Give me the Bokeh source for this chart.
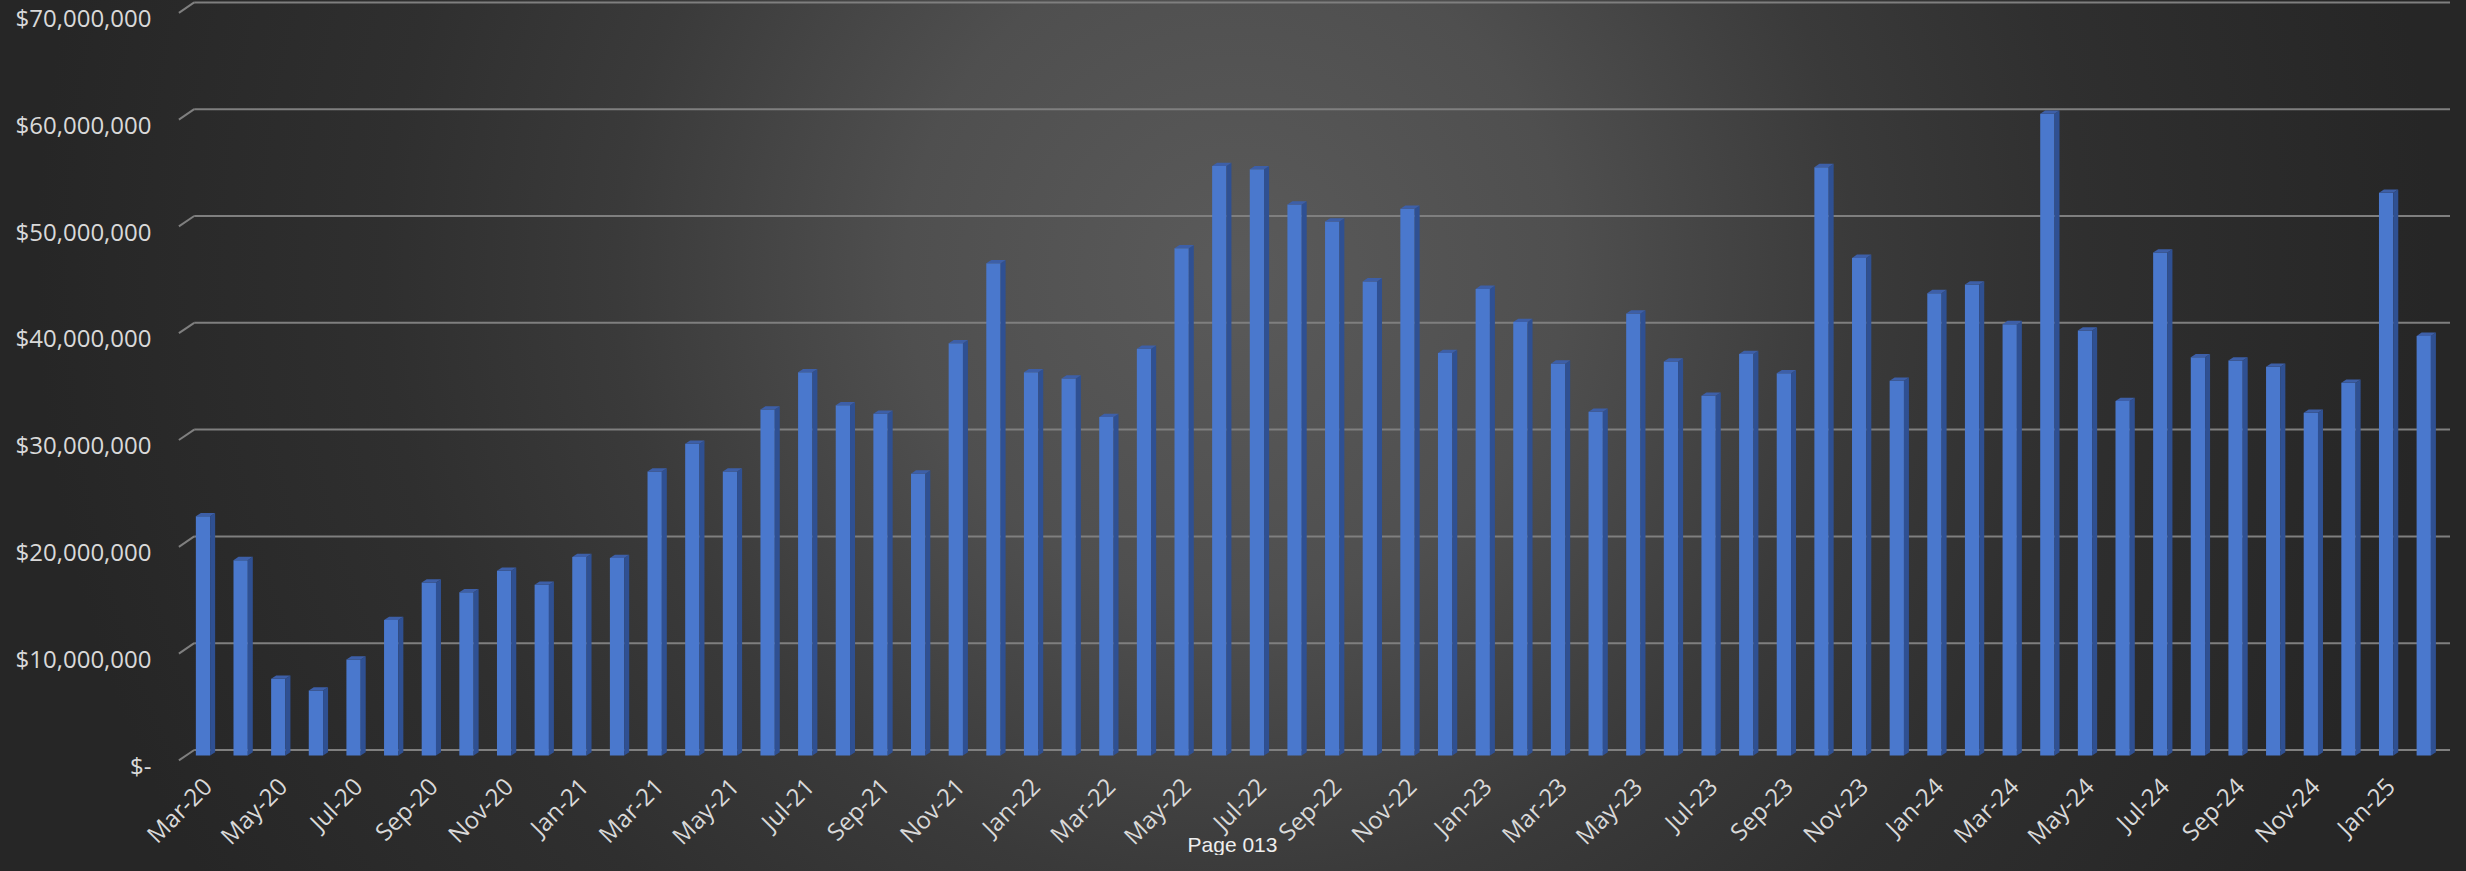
from math import pi
from bokeh.plotting import figure
from bokeh.models import (Range1d, LinearAxis, FixedTicker, NumeralTickFormatter,
                          Label, ColumnDataSource, GlobalInlineStyleSheet)
from bokeh.embed import file_html
from bokeh.resources import INLINE

# ---------------- data ----------------
months = ["Mar-20", "Apr-20", "May-20", "Jun-20", "Jul-20", "Aug-20", "Sep-20", "Oct-20",
          "Nov-20", "Dec-20", "Jan-21", "Feb-21", "Mar-21", "Apr-21", "May-21", "Jun-21",
          "Jul-21", "Aug-21", "Sep-21", "Oct-21", "Nov-21", "Dec-21", "Jan-22", "Feb-22",
          "Mar-22", "Apr-22", "May-22", "Jun-22", "Jul-22", "Aug-22", "Sep-22", "Oct-22",
          "Nov-22", "Dec-22", "Jan-23", "Feb-23", "Mar-23", "Apr-23", "May-23", "Jun-23",
          "Jul-23", "Aug-23", "Sep-23", "Oct-23", "Nov-23", "Dec-23", "Jan-24", "Feb-24",
          "Mar-24", "Apr-24", "May-24", "Jun-24", "Jul-24", "Aug-24", "Sep-24", "Oct-24",
          "Nov-24", "Dec-24", "Jan-25", "Feb-25"]

amounts = [22_400_000, 18_300_000, 7_200_000, 6_100_000, 9_000_000, 12_700_000,
           16_200_000, 15_300_000, 17_300_000, 16_000_000, 18_600_000, 18_500_000,
           26_600_000, 29_200_000, 26_600_000, 32_400_000, 35_900_000, 32_800_000,
           32_000_000, 26_400_000, 38_600_000, 46_100_000, 35_900_000, 35_300_000,
           31_700_000, 38_100_000, 47_500_000, 55_200_000, 54_900_000, 51_600_000,
           50_000_000, 44_400_000, 51_200_000, 37_700_000, 43_700_000, 40_600_000,
           36_700_000, 32_200_000, 41_400_000, 36_900_000, 33_700_000, 37_600_000,
           35_800_000, 55_100_000, 46_600_000, 35_100_000, 43_300_000, 44_100_000,
           40_400_000, 60_100_000, 39_800_000, 33_200_000, 47_100_000, 37_300_000,
           37_000_000, 36_400_000, 32_100_000, 34_900_000, 52_700_000, 39_300_000]

y_ticks = [0, 10_000_000, 20_000_000, 30_000_000, 40_000_000, 50_000_000,
           60_000_000, 70_000_000]
x_tick_idx = list(range(0, len(months), 2))
x_tick_labels = {i: months[i] for i in x_tick_idx}

# ---------------- layout constants (canvas px) ----------------
W, H = 2450, 855
PX_UNIT = 37.64          # px per category
PX_M = 10.68             # px per $1M
ORIGIN_X = 202.5         # canvas x of first bar's front-face centre
ZERO_BACK = 749.5        # canvas y of $0 gridline (back wall)

def x_at(cx):
    return (cx - ORIGIN_X) / PX_UNIT

def y_at(cy):
    return (ZERO_BACK - cy) / PX_M * 1e6

x_start, x_end = x_at(0), x_at(W)
back_start, back_end = y_at(H), y_at(0)

def shifted(px):
    d = px / PX_M * 1e6
    return Range1d(back_start + d, back_end + d)

BAR_DEPTH_PX = 5.6     # bar front plane lies this far below back wall
LAB_DEPTH_PX = 15.0    # value labels sit on the front edge of the floor
FLOOR_PX = 10.4        # floor diagonal drop
LABX_SHIFT_PX = 4.0    # category labels follow the 3D projection

p = figure(width=W, height=H, output_backend="svg", toolbar_location=None,
           x_range=Range1d(x_start, x_end), y_range=Range1d(back_start, back_end),
           x_axis_location=None, y_axis_location=None,
           min_border_left=0, min_border_right=0, min_border_top=0,
           min_border_bottom=0,
           background_fill_color=None, border_fill_color=None,
           outline_line_color=None)
p.xgrid.visible = False
p.ygrid.visible = False
p.extra_y_ranges = {"front": shifted(BAR_DEPTH_PX), "lab": shifted(LAB_DEPTH_PX)}
sx = LABX_SHIFT_PX / PX_UNIT
p.extra_x_ranges = {"labx": Range1d(x_start - sx, x_end - sx)}

p.stylesheets = [GlobalInlineStyleSheet(css="""
html { min-height: 100%;
  background: radial-gradient(circle at 1235px 270px, #5a5a5a 0px, #4f4f4f 330px,
              #3a3a3a 620px, #2f2f2f 850px, #262626 1200px) fixed; }
body { background: transparent; }
""")]

# ---------------- gridlines (back wall + floor diagonal) ----------------
back_left = x_at(193.7)
front_left = x_at(178.4)
floor_drop = FLOOR_PX / PX_M * 1e6
n = len(y_ticks)
p.segment(x0=[back_left] * n, y0=y_ticks, x1=[x_end] * n, y1=y_ticks,
          line_color="#7f7f7f", line_width=2)
p.segment(x0=[front_left] * n, y0=[t - floor_drop for t in y_ticks],
          x1=[back_left] * n, y1=y_ticks,
          line_color="#7f7f7f", line_width=2)

# ---------------- 3D bars ----------------
bw = 14.3 / PX_UNIT
dx = 5.0 / PX_UNIT
dy = 3.3 / PX_M * 1e6
xs_idx = list(range(len(months)))

side_xs, side_ys, top_xs, top_ys = [], [], [], []
for i, v in zip(xs_idx, amounts):
    r = i + bw / 2
    l = i - bw / 2
    side_xs.append([r, r + dx, r + dx, r])
    side_ys.append([0, dy, v + dy, v])
    top_xs.append([l, r, r + dx, l + dx])
    top_ys.append([v, v, v + dy, v + dy])

src = ColumnDataSource(dict(x=xs_idx, top=amounts))
p.vbar(x="x", top="top", bottom=0, width=bw, source=src, y_range_name="front",
       fill_color="#4a78cd", line_color=None)
p.patches(side_xs, side_ys, y_range_name="front", fill_color="#2f5092", line_color=None)
p.patches(top_xs, top_ys, y_range_name="front", fill_color="#3d5fa8", line_color=None)

# ---------------- axes ----------------
LABEL_COLOR = "#d9d9d9"
yaxis = LinearAxis(y_range_name="lab", ticker=FixedTicker(ticks=y_ticks),
                   formatter=NumeralTickFormatter(format="$0,0"),
                   major_label_overrides={0: "$-"},
                   fixed_location=x_at(177),
                   axis_line_color=None, major_tick_line_color=None,
                   minor_tick_line_color=None, major_tick_in=0, major_tick_out=0,
                   major_label_standoff=26,
                   major_label_text_font="Open Sans",
                   major_label_text_font_size="24px",
                   major_label_text_color=LABEL_COLOR)
p.add_layout(yaxis, "left")

xaxis = LinearAxis(x_range_name="labx", ticker=FixedTicker(ticks=x_tick_idx),
                   major_label_overrides=x_tick_labels,
                   major_label_orientation=pi / 4,
                   fixed_location=y_at(763),
                   axis_line_color=None, major_tick_line_color=None,
                   minor_tick_line_color=None, major_tick_in=0, major_tick_out=0,
                   major_label_standoff=18,
                   major_label_text_font="Open Sans",
                   major_label_text_font_size="24px",
                   major_label_text_color=LABEL_COLOR)
p.add_layout(xaxis, "below")

p.add_layout(Label(x=x_at(1232), y=y_at(844), text="Page 013", text_align="center",
                   text_baseline="alphabetic", text_font="Liberation Sans",
                   text_font_size="21px", text_color="#eeeeee"))

open("out.html", "w").write(file_html(p, INLINE))
